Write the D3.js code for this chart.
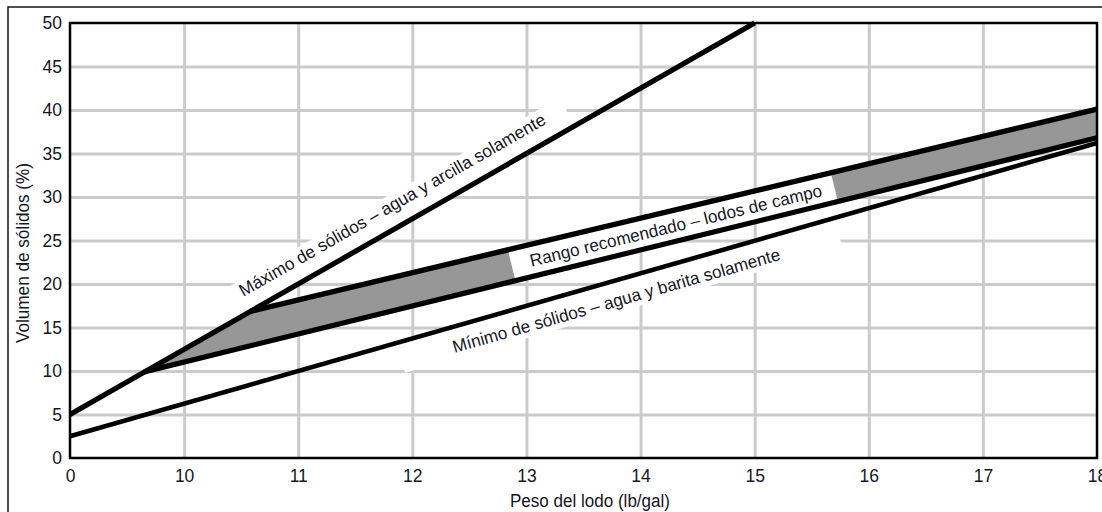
<!DOCTYPE html>
<html>
<head>
<meta charset="utf-8">
<script src="https://cdn.jsdelivr.net/npm/d3@7"></script>
<style>
  html, body { margin: 0; padding: 0; background: #fff; }
  svg { display: block; }
  .lbl { font-family: 'Liberation Sans', Arial, sans-serif; fill: #16161f; }
</style>
</head>
<body>
<svg id="chart" width="1102" height="512"></svg>
<script>
// ---- data ----
const xTicks = [9, 10, 11, 12, 13, 14, 15, 16, 17, 18];
const xTickLabels = ["0", "10", "11", "12", "13", "14", "15", "16", "17", "18"];
const yTicks = [0, 5, 10, 15, 20, 25, 30, 35, 40, 45, 50];
const xGrid = [10, 11, 12, 13, 14, 15, 16, 17];
const yGrid = [5, 10, 15, 20, 25, 30, 35, 40, 45];

// series: [mud weight, solids volume %]
const maxSolids = [[9, 5], [15, 50]];          // Máximo de sólidos – agua y arcilla
const minSolids = [[9, 2.5], [18, 36.2]];      // Mínimo de sólidos – agua y barita
const rangeUpper = [[10.58, 16.85], [18, 40.1]];
const rangeLower = [[9.65, 9.9], [18, 36.8]];

const labelMax = "Máximo de sólidos – agua y arcilla solamente";
const labelMin = "Mínimo de sólidos – agua y barita solamente";
const labelRange = "Rango recomendado – lodos de campo";
const xTitle = "Peso del lodo (lb/gal)";
const yTitle = "Volumen de sólidos (%)";

// ---- layout ----
const L = 70, R = 1097, T = 23, B = 458;
const svg = d3.select("#chart");
const x = d3.scaleLinear().domain([9, 18]).range([L, R]);
const y = d3.scaleLinear().domain([0, 50]).range([B, T]);

// outer frame
svg.append("rect").attr("x", 8).attr("y", 7).attr("width", 1110).attr("height", 530)
  .attr("fill", "none").attr("stroke", "#222").attr("stroke-width", 1.6);

// gridlines
const gx = svg.append("g").attr("transform", `translate(0,${B})`)
  .call(d3.axisBottom(x).tickValues(xGrid).tickSize(-(B - T)).tickFormat(""));
gx.select(".domain").remove();
gx.selectAll("line").attr("stroke", "#cbcbcb").attr("stroke-width", 3);
const gy = svg.append("g").attr("transform", `translate(${L},0)`)
  .call(d3.axisLeft(y).tickValues(yGrid).tickSize(-(R - L)).tickFormat(""));
gy.select(".domain").remove();
gy.selectAll("line").attr("stroke", "#cbcbcb").attr("stroke-width", 3);

// helpers
function valAt(s, xv) {
  const t = (xv - s[0][0]) / (s[1][0] - s[0][0]);
  return s[0][1] + t * (s[1][1] - s[0][1]);
}
function angleOf(s) {
  return Math.atan2(y(s[1][1]) - y(s[0][1]), x(s[1][0]) - x(s[0][0])) * 180 / Math.PI;
}

// band polygon
const bandPts = [rangeLower[0], rangeUpper[0], rangeUpper[1], rangeLower[1]];
const bandPath = d3.line().x(d => x(d[0])).y(d => y(d[1]));
svg.append("defs").append("clipPath").attr("id", "bandClip")
  .append("path").attr("d", bandPath(bandPts) + "Z");
svg.append("path").attr("d", bandPath(bandPts) + "Z").attr("fill", "#979797");

// labels with white boxes
function label(text, px, py, ang, base, u0, u1, v0, v1, len, clip) {
  const outer = svg.append("g");
  if (clip) outer.attr("clip-path", "url(#bandClip)");
  const g = outer.append("g").attr("transform", `translate(${px},${py}) rotate(${ang})`);
  g.append("rect").attr("x", u0).attr("y", v0).attr("width", u1 - u0).attr("height", v1 - v0).attr("fill", "#fff");
  const g2 = svg.append("g").attr("transform", `translate(${px},${py}) rotate(${ang})`);
  g2.append("text").attr("class", "lbl").attr("x", 0).attr("y", base)
    .attr("text-anchor", "middle").attr("font-size", 17.5)
    .attr("textLength", len).attr("lengthAdjust", "spacingAndGlyphs").text(text);
}

// maximum label
{
  const xv = 11.92;
  label(labelMax, x(xv), y(valAt(maxSolids, xv)), angleOf(maxSolids), -16, -200, 198, -32, 0, 350, false);
}
// minimum label
{
  const xv = 13.74;
  label(labelMin, x(xv), y(valAt(minSolids, xv)), angleOf(minSolids), 25.5, -223, 232, 0, 31, 340, false);
}
// range label
{
  const xv = 14.31;
  const ym = (y(valAt(rangeUpper, xv)) + y(valAt(rangeLower, xv))) / 2;
  const ang = (angleOf(rangeUpper) + angleOf(rangeLower)) / 2;
  label(labelRange, x(xv), ym, ang, 6, -169, 163, -30, 30, 300, true);
}

// lines
const line = d3.line().x(d => x(d[0])).y(d => y(d[1]));
svg.append("path").attr("d", line(minSolids)).attr("fill", "none").attr("stroke", "#000").attr("stroke-width", 4.6);
svg.append("path").attr("d", line(rangeLower)).attr("fill", "none").attr("stroke", "#000").attr("stroke-width", 5.2);
svg.append("path").attr("d", line(rangeUpper)).attr("fill", "none").attr("stroke", "#000").attr("stroke-width", 5.4);
svg.append("path").attr("d", line(maxSolids)).attr("fill", "none").attr("stroke", "#000").attr("stroke-width", 5.2);

// plot frame
svg.append("rect").attr("x", L).attr("y", T).attr("width", R - L).attr("height", B - T)
  .attr("fill", "none").attr("stroke", "#000").attr("stroke-width", 2.5);

// axes tick labels
const ax = svg.append("g").attr("transform", `translate(0,${B})`)
  .call(d3.axisBottom(x).tickValues(xTicks).tickSize(0).tickPadding(12)
    .tickFormat((d, i) => xTickLabels[i]));
ax.select(".domain").remove();
ax.selectAll("text").attr("class", "lbl").attr("font-size", 17.5).attr("fill", "#16161f");
const ay = svg.append("g").attr("transform", `translate(${L},0)`)
  .call(d3.axisLeft(y).tickValues(yTicks).tickSize(0).tickPadding(8));
ay.select(".domain").remove();
ay.selectAll("text").attr("class", "lbl").attr("font-size", 17.5).attr("fill", "#16161f");

// titles
svg.append("text").attr("class", "lbl").attr("x", 590).attr("y", 507)
  .attr("text-anchor", "middle").attr("font-size", 18)
  .attr("textLength", 160).attr("lengthAdjust", "spacingAndGlyphs").text(xTitle);
svg.append("text").attr("class", "lbl")
  .attr("transform", "translate(29,253) rotate(-90)")
  .attr("text-anchor", "middle").attr("font-size", 18)
  .attr("textLength", 180).attr("lengthAdjust", "spacingAndGlyphs").text(yTitle);
</script>
</body>
</html>
